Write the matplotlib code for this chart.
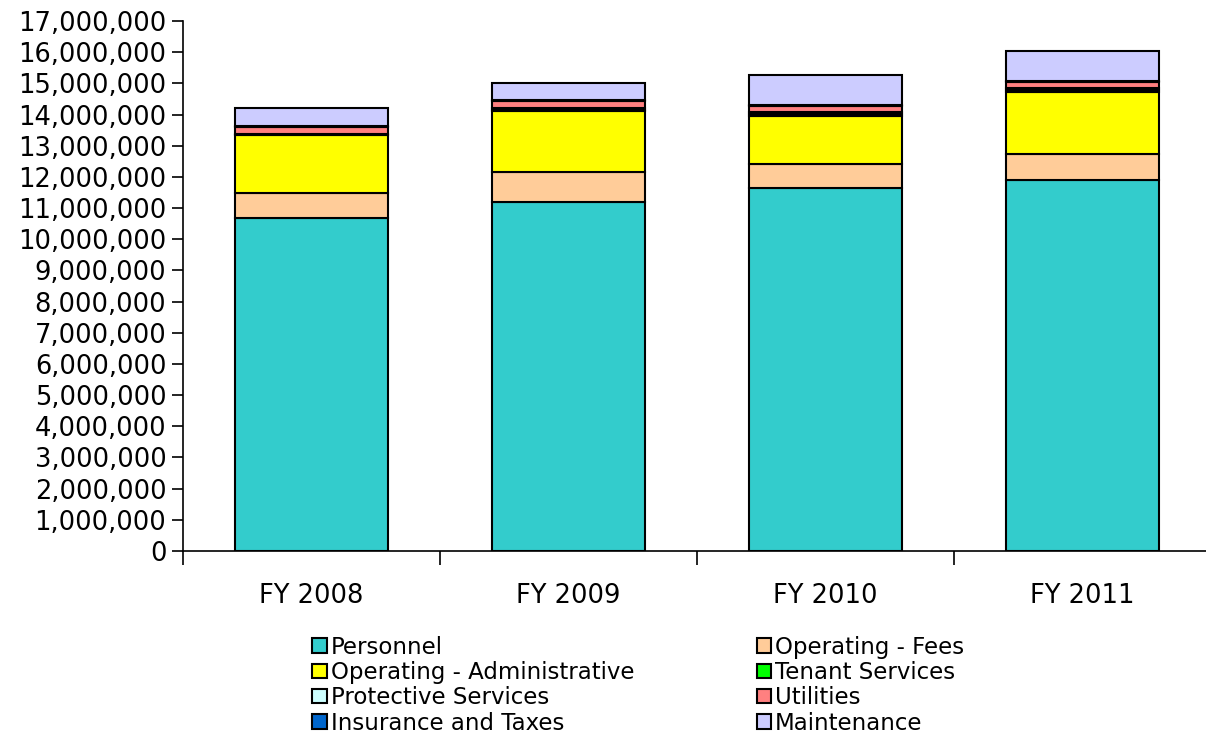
import numpy as np
import matplotlib
matplotlib.use('Agg')
import matplotlib.pyplot as plt
from matplotlib.ticker import FuncFormatter, FixedLocator

# fiscal years on the x axis
years = ['FY 2008', 'FY 2009', 'FY 2010', 'FY 2011']

# stacked expense categories (bottom to top)
personnel = [10680000, 11190000, 11640000, 11900000]
operating_fees = [800000, 980000, 760000, 820000]
operating_admin = [1860000, 1940000, 1560000, 2010000]
tenant_services = [25000, 50000, 55000, 55000]
protective_services = [25000, 50000, 55000, 55000]
utilities = [200000, 210000, 210000, 190000]
insurance_taxes = [30000, 30000, 30000, 30000]
maintenance = [590000, 570000, 960000, 990000]

series_names = ['Personnel', 'Operating - Fees', 'Operating - Administrative',
                'Tenant Services', 'Protective Services', 'Utilities',
                'Insurance and Taxes', 'Maintenance']
series_values = [personnel, operating_fees, operating_admin, tenant_services,
                 protective_services, utilities, insurance_taxes, maintenance]
series_colors = ['#33CCCC', '#FFCC99', '#FFFF00', '#00FF00',
                 '#CCFFFF', '#FF8080', '#0066CC', '#CCCCFF']

fig = plt.figure(figsize=(12.06, 7.34), dpi=100)
ax = fig.add_axes([0.1517, 0.2493, 0.8525, 0.7221])

x = np.arange(len(years))
bottom = np.zeros(len(years))
handles = []
for name, vals, col in zip(series_names, series_values, series_colors):
    b = ax.bar(x, vals, width=0.595, bottom=bottom, color=col,
               edgecolor='black', linewidth=1.5, label=name)
    handles.append(b)
    bottom = bottom + np.array(vals)

ax.set_xlim(-0.5, 3.5)
ax.set_ylim(0, 17000000)
ax.set_yticks(np.arange(0, 17000001, 1000000))
ax.yaxis.set_major_formatter(FuncFormatter(lambda v, p: '{:,.0f}'.format(v)))

# category labels at the centers, tick marks between categories
ax.xaxis.set_major_locator(FixedLocator([-0.5, 0.5, 1.5, 2.5, 3.5]))
ax.xaxis.set_minor_locator(FixedLocator(x))
ax.set_xticklabels([])
ax.set_xticklabels(years, minor=True)
ax.tick_params(axis='x', which='major', direction='out', length=10, width=1.2, color='black')
ax.tick_params(axis='x', which='minor', length=0, pad=23, labelsize=18.5)
ax.tick_params(axis='y', direction='out', length=8, width=1.2, labelsize=18.5, pad=4)

for s in ['top', 'right']:
    ax.spines[s].set_visible(False)
ax.spines['left'].set_linewidth(1.2)
ax.spines['bottom'].set_linewidth(1.2)

# legend reads row-wise in two columns
order = [0, 2, 4, 6, 1, 3, 5, 7]
leg = fig.legend([handles[i] for i in order], [series_names[i] for i in order],
                 ncol=2, loc='upper left', bbox_to_anchor=(0.259, 0.134),
                 frameon=False, fontsize=16.5, handlelength=0.65, handleheight=0.6,
                 handletextpad=0.15, columnspacing=5.34, labelspacing=0.1,
                 borderpad=0, borderaxespad=0)

fig.savefig('out.png', dpi=100)
